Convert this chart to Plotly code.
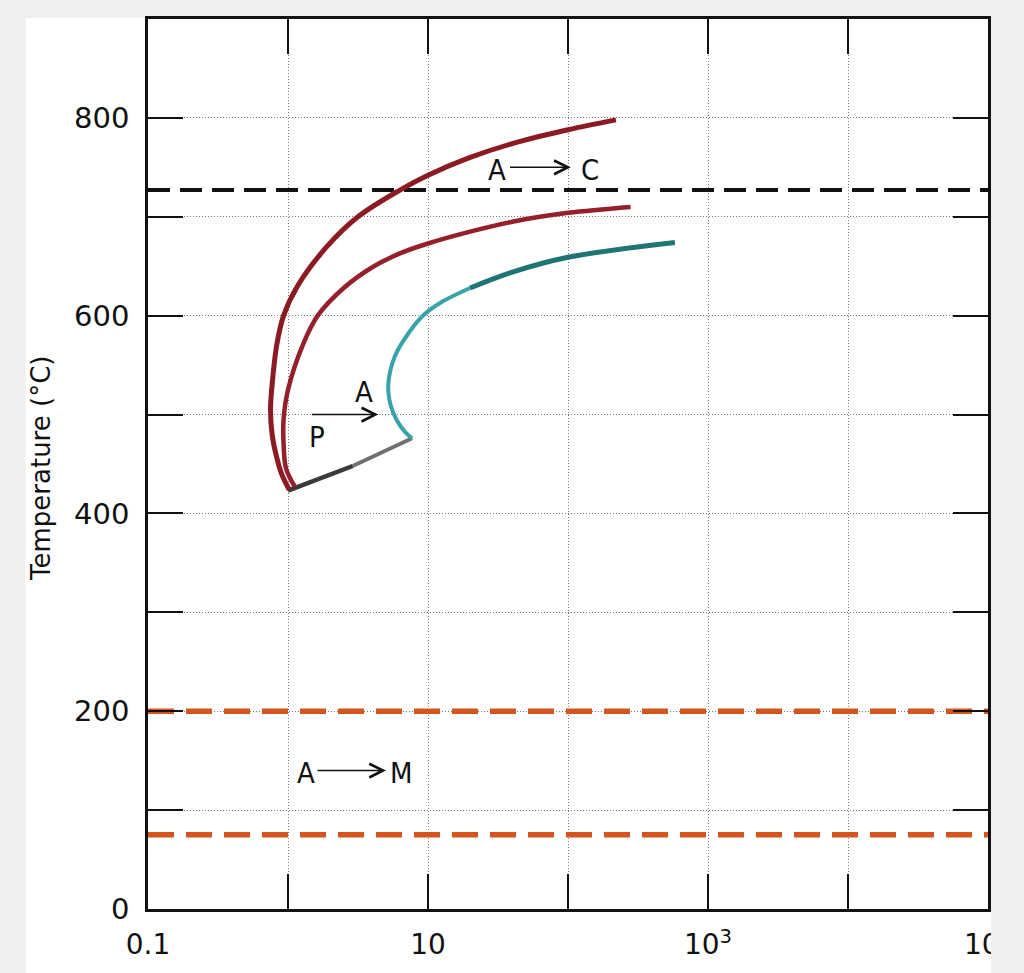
import plotly.graph_objects as go

# ---------------- data (time in s, temperature in °C) ----------------
start_t = [1.02, 0.9, 0.82, 0.77, 0.75, 0.77, 0.83, 0.93, 1.17, 1.9, 3.16, 6.3, 10, 20, 40, 100, 220]
start_T = [424, 440, 460, 480, 505, 530, 570, 600, 630, 670, 700, 727, 742, 760, 774, 788, 798]

mid_t = [1.12, 0.97, 0.93, 0.93, 1.0, 1.29, 1.63, 2.5, 4.0, 6.3, 10, 20, 40, 100, 280]
mid_T = [427, 445, 470, 495, 525, 572, 600, 628, 649, 663, 673, 685, 695, 704, 710]

finish_low_t = [7.7, 6.9, 6.0, 5.4, 5.2, 5.8, 7.4, 9.2, 12.6, 20]
finish_low_T = [476, 482, 494, 510, 530, 559, 584, 600, 614, 628]
finish_high_t = [20, 40, 100, 580]
finish_high_T = [628, 644, 659, 674]

lower_a_t = [1.0, 2.9]
lower_a_T = [423, 448]
lower_b_t = [2.9, 7.7]
lower_b_T = [448, 476]

span_t = [0.1, 1e5]
eutectoid_T = 727
ms_T = 200
mf_T = 75

x_tickvals = [0.1, 1, 10, 100, 1e3, 1e4, 1e5]
x_ticktext = ["0.1", "", "10", "", "10<sup>3</sup>", "", "10<sup>5</sup>"]
y_tickvals = [0, 100, 200, 300, 400, 500, 600, 700, 800, 900]
y_ticktext = ["0", "", "200", "", "400", "", "600", "", "800", ""]

# labels: (text, log10 time, temperature)
labels = [("A", 1.49, 747), ("C", 2.16, 747),
          ("A", 0.546, 523), ("P", 0.21, 477),
          ("A", 0.13, 138), ("M", 0.81, 138)]
# arrows: (tail log10 t, head log10 t, temperature)
arrows = [(1.575, 2.02, 750), (0.16, 0.645, 500), (0.20, 0.70, 140)]

RED = "#8b1a22"
ORANGE = "#d4541c"

L, R, T_, B = 148, 32, 19, 64
PW = 1024 - L - R
PH = 973 - T_ - B

fig = go.Figure()

def line(x, y, color, width, dash="solid", shape="spline"):
    fig.add_trace(go.Scatter(x=x, y=y, mode="lines",
                             line=dict(color=color, width=width, dash=dash,
                                       shape=shape, smoothing=1.0),
                             hoverinfo="skip", showlegend=False))

line(span_t, [eutectoid_T] * 2, "#111111", 4, dash="22px,10px", shape="linear")
line(span_t, [ms_T] * 2, ORANGE, 5.5, dash="26px,12px", shape="linear")
line(span_t, [mf_T] * 2, ORANGE, 5.5, dash="26px,12px", shape="linear")

line(lower_a_t, lower_a_T, "#3a3a3a", 4.5, shape="linear")
line(lower_b_t, lower_b_T, "#707070", 4, shape="linear")
line(start_t, start_T, RED, 5)
line(mid_t, mid_T, "#951f2b", 4.5)
line(finish_low_t, finish_low_T, "#3aa2ab", 4)
line(finish_high_t, finish_high_T, "#1f7474", 5)

for txt, lx, T in labels:
    fig.add_annotation(x=lx, y=T, xref="x", yref="y", text=txt, showarrow=False,
                       font=dict(family="DejaVu Sans Condensed, DejaVu Sans",
                                 size=29, color="#111111"),
                       xanchor="center", yanchor="middle")

for tail, head, T in arrows:
    fig.add_annotation(x=head, y=T, ax=tail, ay=T, xref="x", yref="y",
                       axref="x", ayref="y", text="", showarrow=True,
                       arrowhead=5, arrowsize=1.8, arrowwidth=1.5,
                       arrowcolor="#111111", standoff=0)

# axis title (vertical)
fig.add_annotation(x=(41 - L) / PW, y=0.495, xref="paper", yref="paper",
                   text="Temperature (°C)", textangle=-90, showarrow=False,
                   font=dict(family="DejaVu Sans", size=26, color="#111111"),
                   xanchor="center", yanchor="middle")

axis_common = dict(showline=True, linecolor="#111111", linewidth=2.5,
                   mirror="ticks", ticks="inside", ticklen=35, tickwidth=1.5,
                   tickcolor="#111111", showgrid=True, gridcolor="#777777",
                   gridwidth=1, griddash="1px,2px", zeroline=False)

fig.update_xaxes(type="log", range=[-1, 5], tickmode="array",
                 tickvals=x_tickvals, ticktext=x_ticktext,
                 tickfont=dict(family="DejaVu Sans", size=28, color="#111111"),
                 ticklabelstandoff=9, **axis_common)
fig.update_yaxes(range=[0, 900], tickmode="array", tickvals=y_tickvals,
                 ticktext=y_ticktext,
                 tickfont=dict(family="DejaVu Sans", size=29, color="#111111"),
                 ticklabelstandoff=10, **axis_common)

# photo-like page: white sheet on a light grey background
fig.add_shape(type="rect", xref="paper", yref="paper",
              x0=(25 - L) / PW, x1=(995 - L) / PW,
              y0=(973 - B - 973) / PH, y1=(973 - B - 18) / PH,
              fillcolor="white", line=dict(width=0), layer="below")
fig.add_shape(type="rect", xref="paper", yref="paper",
              x0=(995 - L) / PW, x1=(1030 - L) / PW,
              y0=-0.1, y1=1.05,
              fillcolor="#efefef", line=dict(width=0), layer="above")

fig.update_layout(width=1024, height=973,
                  margin=dict(l=L, r=R, t=T_, b=B),
                  paper_bgcolor="#efefef", plot_bgcolor="white",
                  showlegend=False)

fig.write_html("out.html")
